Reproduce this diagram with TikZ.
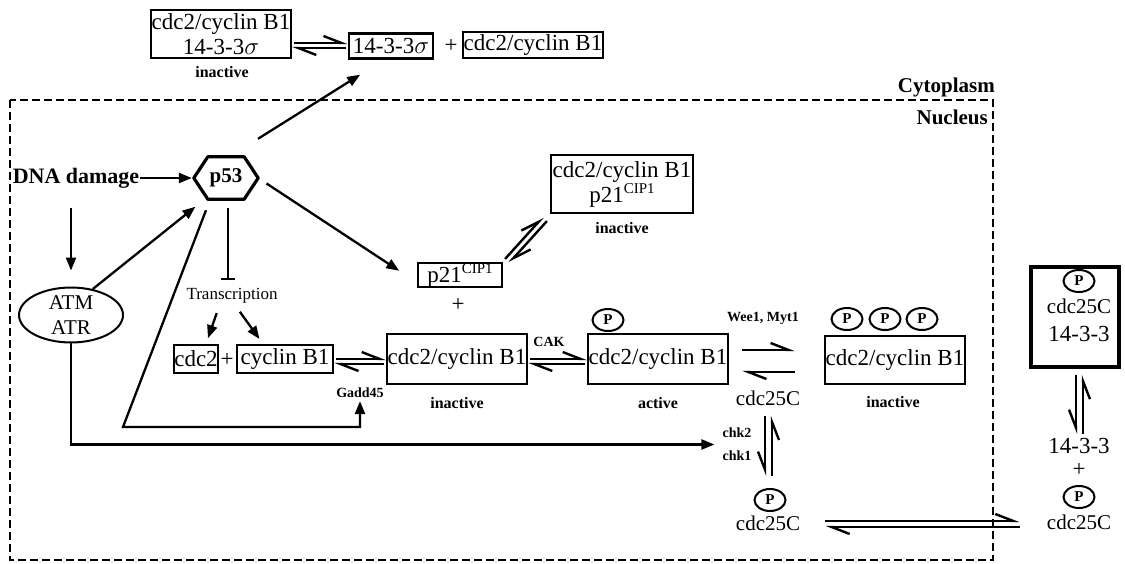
\documentclass[tikz,border=0pt]{standalone}
\usepackage{fontspec}
\setmainfont{Liberation Serif}
\usetikzlibrary{arrows.meta,shapes.geometric,calc}
\newcommand\myfs[2]{\fontsize{#1}{#2}\selectfont}
\newcommand\cip{\raisebox{9pt}{\myfs{15}{15}CIP1}}
\begin{document}
\begin{tikzpicture}[x=1pt,y=-1pt,
 box/.style={draw, line width=2.2pt, inner sep=0.5pt, align=center, font=\myfs{23}{25}},
 txt/.style={inner sep=0pt, font=\myfs{23}{25}},
 c25/.style={inner sep=0pt, font=\myfs{21}{23}},
 lbl/.style={inner sep=0pt, font=\bfseries\myfs{16}{18}},
 sml/.style={inner sep=0pt, font=\bfseries\myfs{14}{16}},
 pc/.style={draw, ellipse, line width=2pt, minimum width=31pt, minimum height=22pt, inner sep=0pt, font=\bfseries\myfs{15}{15}},
 arr/.style={line width=2.3pt, -{Triangle[length=13pt,width=10pt]}},
 hp/.style={line width=2.4pt, -{Straight Barb[left,length=18pt,width=14pt]}},
 hpv/.style={line width=2.4pt, -{Straight Barb[right,length=18pt,width=14pt]}},
]
\useasboundingbox (0,0) rectangle (1125,563);
\fill[white] (0,0) rectangle (1125,563);

% frame
\draw[line width=1.6pt, dash pattern=on 8pt off 4pt] (10,100) rectangle (993,560);
\node[font=\bfseries\myfs{21}{21}, anchor=east, inner sep=0pt] (cyto) at (995,87) {Cytoplasm};
\node[font=\bfseries\myfs{21}{21}, anchor=east, inner sep=0pt] (nuc) at (988,117) {Nucleus};

% top row (cytoplasm)
\node[box, minimum width=139, minimum height=48] (cs) at (221,34) {cdc2/cyclin B1\\14-3-3$\sigma$};
\node[lbl] (csl) at (222,72) {inactive};
\node[box, minimum width=84, minimum height=25] (sig) at (391,46) {14-3-3$\sigma$};
\node[txt] (pl1) at (451,46) {+};
\node[box, minimum width=134, minimum height=26] (cb) at (533,45) {cdc2/cyclin B1};

% DNA damage, p53, ATM
\node[font=\bfseries\myfs{22}{22}, inner sep=1pt] (dna) at (76,178) {DNA damage};
\node[minimum width=64, minimum height=42, inner sep=0pt, font=\bfseries\myfs{21}{21}] (p53) at (226,178) {p53};
\draw[line width=3.2pt, line join=round] (p53.west) -- ([xshift=14]p53.north west) -- ([xshift=-14]p53.north east)
  -- (p53.east) -- ([xshift=-14]p53.south east) -- ([xshift=14]p53.south west) -- cycle;
\node[draw, ellipse, line width=2pt, minimum width=104, minimum height=52, inner sep=0pt, align=center, font=\myfs{21}{25}] (atm) at (71,315) {ATM\\ATR};
\node[inner sep=0pt, font=\myfs{17}{17}] (tr) at (232,296) {Transcription};

% middle row
\node[box, minimum width=44, minimum height=28] (cdc) at (196,359) {cdc2};
\node[txt] (pl2) at (227,360) {+};
\node[box, minimum width=96, minimum height=28] (cyc) at (285,359) {cyclin B1};
\node[box, minimum width=131, minimum height=50] (ib) at (457,359) {cdc2/cyclin B1};
\node[lbl] (ibl) at (457,403) {inactive};
\node[sml] (cak) at (549,342) {CAK};
\node[box, minimum width=130, minimum height=50] (ab) at (658,359) {cdc2/cyclin B1};
\node[pc] (abp) at (608,320) {P};
\node[lbl] (abl) at (658,403) {active};
\node[sml] (wee) at (763,318) {Wee1, Myt1};
\node[c25] (c25) at (768,398) {cdc25C};
\node[box, minimum width=134, minimum height=48] (pb) at (895,360) {cdc2/cyclin B1};
\node[pc] (pp1) at (847,319) {P};
\node[pc] (pp2) at (885,319) {P};
\node[pc] (pp3) at (922,319) {P};
\node[lbl] (pbl) at (893,402) {inactive};

\node[sml] (chk2) at (737,433) {chk2};
\node[sml] (chk1) at (737,456) {chk1};
\node[sml] (gadd) at (360,393) {Gadd45};

% p21
\node[box, minimum width=84, minimum height=24, inner sep=0pt] (p21) at (460,275) {p21\cip};
\node[txt] (pl3) at (458,305) {+};
\node[box, minimum width=142, minimum height=58] (pc21) at (622,184) {cdc2/cyclin B1\\p21\cip};
\node[lbl] (pc21l) at (622,228) {inactive};

% bottom cdc25C
\node[pc] (pc25p) at (770,500) {P};
\node[c25] (pc25) at (768,523) {cdc25C};

% right side (cytoplasm)
\node[draw, line width=3.5pt, minimum width=88, minimum height=100, inner sep=0pt] (rb) at (1075,317) {};
\node[pc] (rbp) at (1079,281) {P};
\node[c25] (rbc) at (1079,306) {cdc25C};
\node[txt] (rb14) at (1079,334) {14-3-3};
\node[txt] (r14) at (1079,446) {14-3-3};
\node[txt] (rpl) at (1079,470) {+};
\node[pc] (rp) at (1079,497) {P};
\node[c25] (rc) at (1079,522) {cdc25C};

% arrows
\draw[arr, shorten >=2pt] (dna) -- (p53.west);
\draw[arr, shorten <=19pt, shorten >=16pt] (dna.south -| atm.north) -- (atm.north);
\draw[arr, shorten >=12pt] (atm.50) -- (p53.-135);
\draw[arr, shorten >=2pt] ([xshift=32,yshift=18]p53.north) -- ([xshift=14,yshift=-14]sig.south west);
\draw[arr, shorten <=10pt, shorten >=2pt] (p53.east) -- ([xshift=-16,yshift=-10]p21.north west);
\draw[line width=2.3pt, -{Bar[width=14pt,line width=2.3pt]}, shorten <=9pt, shorten >=8pt] ([xshift=2]p53.south) -- ([xshift=2]p53.south |- tr.north);
\draw[arr, shorten <=10pt, shorten >=6pt] ([xshift=-12]tr.south) -- ([xshift=10]cdc.north);
\draw[arr, shorten <=10pt, shorten >=6pt] ([xshift=2]tr.south) -- ([xshift=-22]cyc.north);
\coordinate (g1) at (123,427);
\draw[arr, shorten >=3pt, line join=miter] ([xshift=-20,yshift=-11]p53.south) -- (g1) -| (gadd.south);
\draw[arr, shorten >=8pt] (atm.south) |- ($(chk2.west)!0.5!(chk1.west)$);

% equilibria
\draw[hp, shorten <=2pt] ([yshift=3]sig.west -| cs.east) -- ([yshift=3]sig.west);
\draw[hp, shorten <=2pt] ([yshift=-2]sig.west) -- ([yshift=-2]sig.west -| cs.east);

\draw[hp, shorten <=2pt] ([yshift=0]ib.west -| cyc.east) -- ([yshift=0]ib.west);
\draw[hp, shorten <=2pt] ([yshift=-5]ib.west) -- ([yshift=-5]ib.west -| cyc.east);

\draw[hp, shorten <=2pt] ([yshift=0]ab.west -| ib.east) -- ([yshift=0]ab.west);
\draw[hp, shorten <=2pt] ([yshift=-5]ab.west) -- ([yshift=-5]ab.west -| ib.east);

\coordinate (w1) at (742,350);
\coordinate (w2) at (795,350);
\coordinate (w3) at (795,372);
\coordinate (w4) at (742,372);
\draw[hp] (w1) -- (w2);
\draw[hp] (w3) -- (w4);

\draw[hpv, shorten <=12pt, shorten >=10pt] ([xshift=4]c25.south |- pc25p.north) -- ([xshift=4]c25.south);
\draw[hpv, shorten <=10pt, shorten >=12pt] ([xshift=-3]c25.south) -- ([xshift=-3]c25.south |- pc25p.north);

\draw[hp, shorten <=25pt, shorten >=27pt] ([yshift=1]rc.west -| pc25.east) -- ([yshift=1]rc.west);
\draw[hp, shorten <=27pt, shorten >=25pt] ([yshift=-5]rc.west) -- ([yshift=-5]rc.west -| pc25.east);

\draw[hpv, shorten <=4pt, shorten >=6pt] ([xshift=4]r14.north) -- ([xshift=4]r14.north |- rb.south);
\draw[hpv, shorten <=6pt, shorten >=4pt] ([xshift=-3]r14.north |- rb.south) -- ([xshift=-3]r14.north);

\draw[hp] ($(p21.north east)+(2,-3)$) -- ($(pc21.south west)+(-7,3)$);
\draw[hp] ($(pc21.south west)+(-3,7)$) -- ($(p21.north east)+(6,1)$);
\end{tikzpicture}
\end{document}
